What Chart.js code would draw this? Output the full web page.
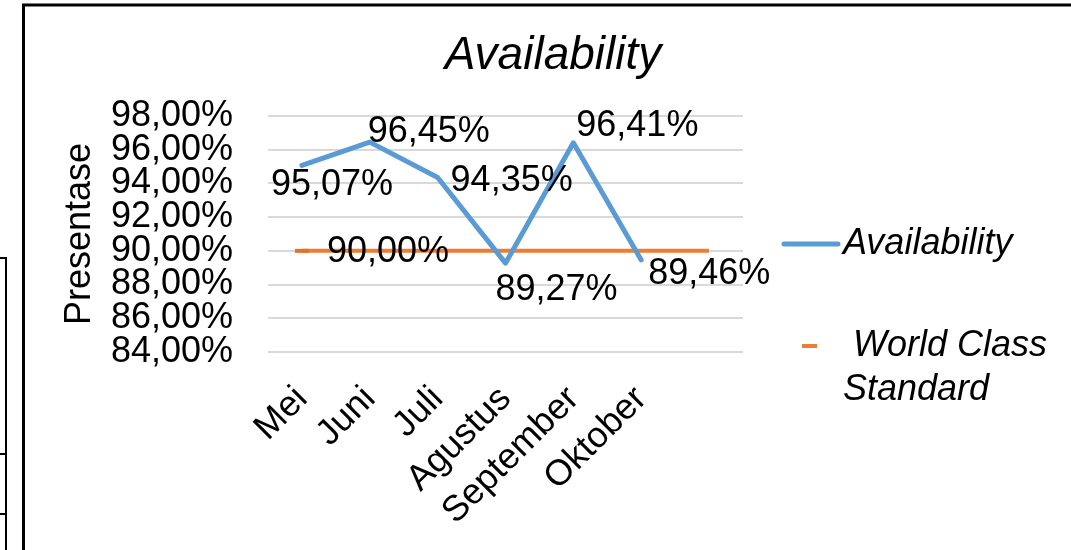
<!DOCTYPE html>
<html>
<head>
<meta charset="utf-8">
<title>Availability</title>
<script src="https://cdn.jsdelivr.net/npm/chart.js@4.4.1/dist/chart.umd.min.js"></script>
<style>
    html, body { margin: 0; padding: 0; background: #fff; }
    #wrap { width: 1071px; height: 550px; }
</style>
</head>
<body>
<div id="wrap"><canvas id="availabilityChart" width="1071" height="550"></canvas></div>
<script>
// Data
const months = ['Mei', 'Juni', 'Juli', 'Agustus', 'September', 'Oktober', ''];
const availability = [95.07, 96.45, 94.35, 89.27, 96.41, 89.46, null];
const worldClass = [90, 90, 90, 90, 90, 90, 90];
const seriesNames = ['Availability', 'World Class Standard'];
const chartTitle = 'Availability';
const yAxisTitle = 'Presentase';
const yMin = 84;
const yMax = 98;
const yStep = 2;

const fontFamily = "'Liberation Sans', Arial, Helvetica, sans-serif";
const blue = '#5b9bd5';
const orange = '#ed7d31';

// where each value label sits, in px from its point (as placed in the original)
const availabilityLabelShift = [[30, 20], [59, -10], [74, 4], [51, 27], [64, -17], [68, 14]];
const worldClassLabelShift = [[86, 1]];

function pct(v) {
    return v.toFixed(2).replace('.', ',') + '%';
}

// value labels next to the points
const dataLabels = {
    id: 'dataLabels',
    afterDatasetsDraw(chart) {
        const ctx = chart.ctx;
        ctx.save();
        ctx.font = '36px ' + fontFamily;
        ctx.fillStyle = '#000';
        ctx.textAlign = 'center';
        ctx.textBaseline = 'middle';
        const draw = (dsIndex, shifts) => {
            const meta = chart.getDatasetMeta(dsIndex);
            const values = chart.data.datasets[dsIndex].data;
            shifts.forEach((s, i) => {
                const pt = meta.data[i];
                if (!pt || values[i] == null) return;
                ctx.fillText(pct(values[i]), pt.x + s[0], pt.y + s[1]);
            });
        };
        draw(0, availabilityLabelShift);
        draw(1, worldClassLabelShift);
        ctx.restore();
    }
};

// title centred on the whole frame, legend on the right side
const sideLegend = {
    id: 'sideLegend',
    afterDraw(chart) {
        const ctx = chart.ctx;
        const x0 = chart.chartArea.right;
        ctx.save();

        ctx.fillStyle = '#000';
        ctx.textBaseline = 'middle';
        ctx.textAlign = 'center';
        ctx.font = 'italic 46px ' + fontFamily;
        ctx.fillText(chartTitle, 553, 56);

        ctx.textAlign = 'left';
        ctx.font = 'italic 36px ' + fontFamily;

        // Availability
        ctx.strokeStyle = blue;
        ctx.lineWidth = 5;
        ctx.lineCap = 'round';
        ctx.beginPath();
        ctx.moveTo(x0 + 41, 244);
        ctx.lineTo(x0 + 95, 244);
        ctx.stroke();
        ctx.fillText(seriesNames[0], x0 + 100, 244);

        // World Class Standard (wrapped on two lines, first line starts with a space)
        ctx.strokeStyle = orange;
        ctx.lineWidth = 4;
        ctx.lineCap = 'butt';
        ctx.beginPath();
        ctx.moveTo(x0 + 59, 346);
        ctx.lineTo(x0 + 74, 346);
        ctx.stroke();
        const words = seriesNames[1].split(' ');
        const lines = [];
        let cur = ' ';
        words.forEach(w => {
            const test = cur.trim() ? cur + ' ' + w : cur + w;
            if (cur.trim() && ctx.measureText(test).width > 215) {
                lines.push(cur);
                cur = w;
            } else {
                cur = test;
            }
        });
        lines.push(cur);
        lines.forEach((ln, i) => ctx.fillText(ln, x0 + 100, 346 + i * 44));

        ctx.restore();
    }
};

// frame lines of the screenshot around the chart
const frame = {
    id: 'frame',
    afterDraw(chart) {
        const ctx = chart.ctx;
        ctx.save();
        ctx.strokeStyle = '#000';
        ctx.lineWidth = 3;
        ctx.beginPath();
        ctx.moveTo(23.5, 550);
        ctx.lineTo(23.5, 5);
        ctx.lineTo(1071, 5);
        ctx.stroke();
        ctx.lineWidth = 2;
        ctx.beginPath();
        ctx.moveTo(0, 258);
        ctx.lineTo(6, 258);
        ctx.lineTo(6, 550);
        ctx.moveTo(0, 454);
        ctx.lineTo(6, 454);
        ctx.moveTo(0, 514);
        ctx.lineTo(6, 514);
        ctx.stroke();
        ctx.restore();
    }
};

const ctxAvailability = document.getElementById('availabilityChart').getContext('2d');

const availabilityChart = new Chart(ctxAvailability, {
    type: 'line',
    data: {
        labels: months,
        datasets: [{
            label: seriesNames[0],
            data: availability,
            borderColor: blue,
            backgroundColor: blue,
            borderWidth: 5,
            borderCapStyle: 'round',
            borderJoinStyle: 'round',
            pointRadius: 0,
            fill: false,
            tension: 0
        }, {
            label: seriesNames[1],
            data: worldClass,
            borderColor: orange,
            backgroundColor: orange,
            borderWidth: 4,
            pointStyle: 'line',
            pointRadius: c => c.dataIndex === 0 ? 7 : 0,
            pointBorderWidth: 4,
            pointBorderColor: '#e0732b',
            fill: false,
            tension: 0
        }]
    },
    options: {
        responsive: false,
        animation: false,
        layout: {
            padding: { left: 24, top: 116, right: 328, bottom: 0 }
        },
        plugins: {
            legend: { display: false },
            title: { display: false },
            tooltip: { enabled: false }
        },
        scales: {
            x: {
                offset: true,
                grid: { display: false, drawTicks: false },
                border: { display: false },
                ticks: {
                    color: '#000',
                    font: { family: fontFamily, size: 36 },
                    minRotation: 45,
                    maxRotation: 45,
                    autoSkip: false,
                    padding: 26
                },
                afterFit: scale => { scale.height = 198; }
            },
            y: {
                min: yMin,
                max: yMax,
                grid: { color: '#d9d9d9', lineWidth: 2, drawTicks: false },
                border: { display: false },
                ticks: {
                    stepSize: yStep,
                    autoSkip: false,
                    color: '#000',
                    padding: 35,
                    font: { family: fontFamily, size: 36 },
                    callback: v => pct(v)
                },
                title: {
                    display: true,
                    text: yAxisTitle,
                    color: '#000',
                    font: { family: fontFamily, size: 36 },
                    padding: { top: 34, bottom: 0 }
                },
                afterFit: scale => { scale.width = 244; }
            }
        }
    },
    plugins: [dataLabels, sideLegend, frame]
});
</script>
</body>
</html>
